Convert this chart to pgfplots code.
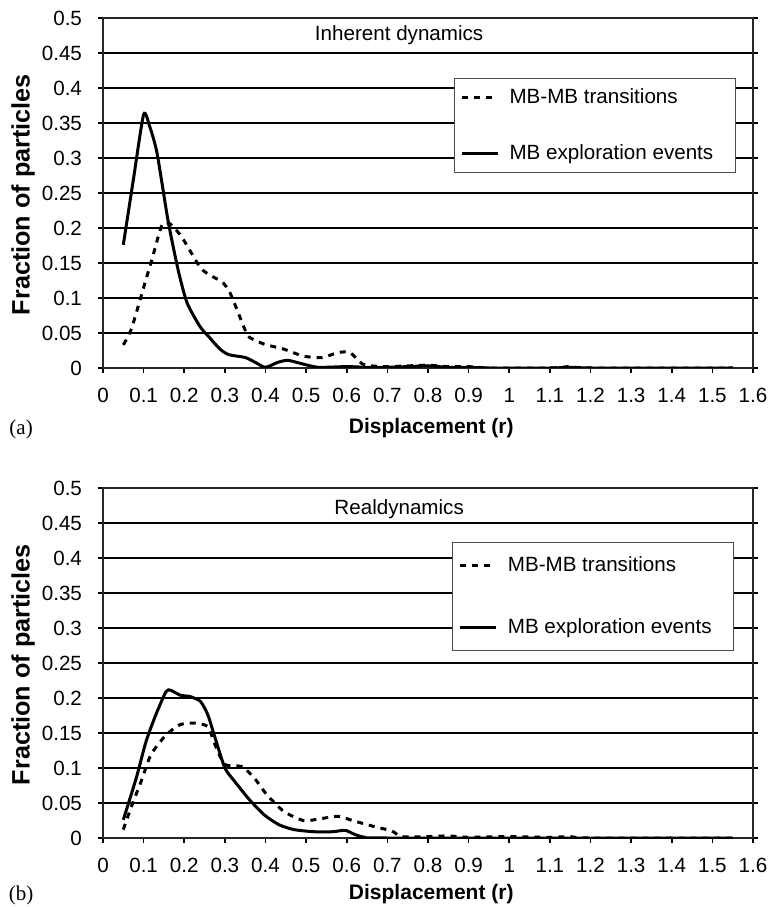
\documentclass[border=0pt]{standalone}
\usepackage{pgfplots}
\pgfplotsset{compat=1.18}
\usepackage{fontspec}
\setmainfont{Liberation Sans}
\newfontfamily\serifpanel{Liberation Serif}

\newcommand{\tfont}{\fontsize{10.3}{12}\selectfont}

\pgfplotsset{
  disp axis/.style={
    scale only axis,
    width=325pt, height=175pt,
    anchor=south west,
    clip mode=individual,
    xmin=0, xmax=1.6, ymin=0, ymax=0.5,
    xtick={0,0.1,0.2,0.3,0.4,0.5,0.6,0.7,0.8,0.9,1,1.1,1.2,1.3,1.4,1.5,1.6},
    xticklabels={0,0.1,0.2,0.3,0.4,0.5,0.6,0.7,0.8,0.9,1,1.1,1.2,1.3,1.4,1.5,1.6},
    ytick={0,0.05,0.1,0.15,0.2,0.25,0.3,0.35,0.4,0.45,0.5},
    yticklabels={0,0.05,0.1,0.15,0.2,0.25,0.3,0.35,0.4,0.45,0.5},
    scaled ticks=false,
    xtick pos=lower, ytick pos=both,
    tick align=outside,
    major tick length=2.5pt,
    tick style={black, line width=0.8pt},
    ymajorgrids=true,
    major grid style={black, line width=1pt},
    axis line style={black!85, line width=1pt},
    tick label style={font=\tfont},
    xticklabel style={yshift=-4pt},
    yticklabel style={xshift=-4.5pt},
    /pgf/number format/assume math mode=true,
    xlabel={Displacement (r)},
    ylabel={Fraction of particles},
    xlabel style={font=\bfseries\fontsize{10.5}{12}\selectfont, anchor=center},
    ylabel style={font=\bfseries\fontsize{12.6}{14}\selectfont, at={(axis description cs:-0.123,0.495)}, anchor=center},
    legend cell align=left,
    legend image code/.code={\draw[#1] (0pt,0pt) -- (18pt,0pt);},
    legend style={anchor=north west, draw=black!70, line width=0.5pt, fill=white,
      font=\tfont, inner xsep=3pt, inner ysep=3pt, row sep=15pt,
      /tikz/every odd column/.append style={column sep=3pt}},
  },
  mbmb/.style={black, line width=1.5pt, dash pattern=on 3pt off 3pt, smooth, tension=0.4},
  mbex/.style={black, line width=1.5pt, smooth, tension=0.4},
}

\begin{document}
\begin{tikzpicture}
\useasboundingbox (0,0) rectangle (384pt,453.5pt);

% ---- (a) inherent dynamics ----
\begin{axis}[disp axis, at={(51.5pt,269.5pt)},
    xlabel style={at={(axis description cs:0.505,-0.172)}},
    legend style={at={(axis cs:0.864,0.414)}}]
  \addplot[mbmb] coordinates {
    (0.05,0.033) (0.07,0.056) (0.098,0.111) (0.105,0.125) (0.12,0.154)
    (0.145,0.204) (0.165,0.206) (0.194,0.187) (0.239,0.144) (0.265,0.132)
    (0.293,0.123) (0.313,0.107) (0.35,0.054) (0.36,0.044) (0.397,0.034)
    (0.445,0.027) (0.493,0.017) (0.54,0.015) (0.578,0.022) (0.608,0.022)
    (0.638,0.006) (0.66,0.003) (0.7,0.002) (0.75,0.003) (0.8,0.004)
    (0.85,0.002) (0.9,0.002) (0.95,0) (1.1,0) (1.15,0.002) (1.2,0) (1.55,0)};
  \addlegendentry{MB-MB transitions}
  \addplot[mbex] coordinates {
    (0.05,0.176) (0.075,0.27) (0.10,0.362) (0.115,0.345) (0.133,0.307)
    (0.16,0.211) (0.185,0.14) (0.207,0.093) (0.239,0.059) (0.26,0.045)
    (0.288,0.027) (0.31,0.019) (0.35,0.015) (0.375,0.008) (0.40,0.001)
    (0.43,0.008) (0.455,0.011) (0.49,0.006) (0.53,0.001) (0.6,0.002)
    (0.65,0.001) (0.7,0.001) (0.75,0.002) (0.8,0.003) (0.85,0.001)
    (0.9,0.001) (0.95,0) (1.1,0) (1.15,0.001) (1.2,0) (1.55,0)};
  \addlegendentry{MB exploration events\hspace*{6pt}}
  \node[font=\tfont] at (axis cs:0.729,0.475) {Inherent dynamics};
  \node[font=\serifpanel\fontsize{10.5}{12}\selectfont] at (axis description cs:-0.126,-0.175) {(a)};
\end{axis}

% ---- (b) real dynamics ----
\begin{axis}[disp axis, at={(51.5pt,34.5pt)},
    xlabel style={at={(axis description cs:0.505,-0.16)}},
    legend style={at={(axis cs:0.86,0.423)}, inner ysep=5pt, row sep=18pt}]
  \addplot[mbmb] coordinates {
    (0.05,0.012) (0.07,0.045) (0.094,0.081) (0.118,0.119) (0.155,0.147)
    (0.19,0.162) (0.227,0.164) (0.258,0.159) (0.276,0.133) (0.30,0.105)
    (0.342,0.102) (0.372,0.086) (0.403,0.062) (0.445,0.038) (0.493,0.025)
    (0.53,0.027) (0.578,0.031) (0.614,0.025) (0.663,0.017) (0.711,0.01)
    (0.735,0.002) (0.8,0.002) (0.85,0.003) (0.9,0.001) (1.0,0.002)
    (1.1,0.001) (1.15,0.002) (1.2,0) (1.55,0)};
  \addlegendentry{MB-MB transitions}
  \addplot[mbex] coordinates {
    (0.05,0.026) (0.082,0.086) (0.106,0.138) (0.13,0.176) (0.155,0.209)
    (0.167,0.211) (0.19,0.204) (0.215,0.202) (0.24,0.195) (0.258,0.176)
    (0.276,0.143) (0.30,0.10) (0.324,0.081) (0.36,0.055) (0.397,0.033)
    (0.433,0.019) (0.47,0.012) (0.518,0.009) (0.566,0.009) (0.596,0.011)
    (0.62,0.005) (0.645,0.001) (0.7,0) (1.55,0)};
  \addlegendentry{MB exploration events\hspace*{6pt}}
  \node[font=\tfont] at (axis cs:0.729,0.47) {Realdynamics};
  \node[font=\serifpanel\fontsize{10.5}{12}\selectfont] at (axis description cs:-0.126,-0.163) {(b)};
\end{axis}
\end{tikzpicture}
\end{document}
